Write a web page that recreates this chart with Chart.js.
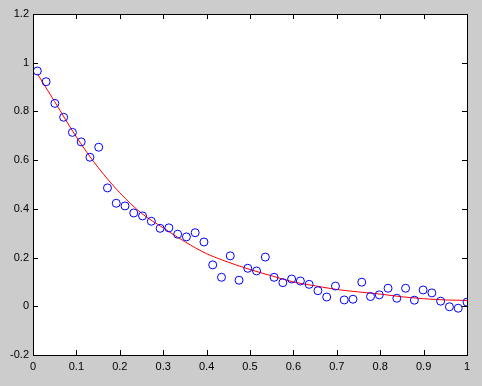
<!DOCTYPE html>
<html>
<head>
<meta charset="utf-8">
<script src="https://cdn.jsdelivr.net/npm/chart.js@4/dist/chart.umd.min.js"></script>
<style>
html,body{margin:0;padding:0;background:#cccccc;}
#wrap{width:482px;height:386px;}
</style>
</head>
<body>
<div id="wrap"><canvas id="c" width="482" height="386"></canvas></div>
<script>
// Sample x positions (50 samples from 0.01 to 1)
const sampleX = [0.0100,0.0302,0.0504,0.0706,0.0908,0.1110,0.1312,0.1514,0.1716,0.1918,
  0.2120,0.2322,0.2524,0.2727,0.2929,0.3131,0.3333,0.3535,0.3737,0.3939,
  0.4141,0.4343,0.4545,0.4747,0.4949,0.5151,0.5353,0.5555,0.5757,0.5959,
  0.6161,0.6363,0.6565,0.6767,0.6969,0.7171,0.7373,0.7575,0.7777,0.7979,
  0.8181,0.8383,0.8585,0.8787,0.8989,0.9191,0.9393,0.9595,0.9797,1.0];
// Observed values (blue circles)
const sampleY = [0.966,0.922,0.833,0.776,0.714,0.675,0.612,0.653,0.486,0.423,
  0.412,0.383,0.371,0.349,0.320,0.322,0.296,0.285,0.302,0.264,
  0.170,0.119,0.207,0.107,0.156,0.145,0.202,0.119,0.097,0.112,
  0.104,0.090,0.064,0.038,0.083,0.026,0.029,0.099,0.040,0.047,
  0.074,0.033,0.074,0.025,0.067,0.055,0.021,-0.002,-0.008,0.017];
// Fitted curve (red line)
const fitX = [0.01,0.05,0.1,0.15,0.2,0.25,0.3,0.35,0.4,0.45,0.5,0.55,0.6,0.65,0.7,0.75,0.8,0.85,0.9,0.95,1.0];
const fitY = [0.955,0.84,0.695,0.57,0.466,0.382,0.322,0.265,0.216,0.181,0.151,0.125,0.10,0.084,0.069,0.059,0.05,0.039,0.031,0.026,0.024];
// Tick labels
const xTickLabels = ['0','0.1','0.2','0.3','0.4','0.5','0.6','0.7','0.8','0.9','1'];
const yTickLabels = ['-0.2','0','0.2','0.4','0.6','0.8','1','1.2'];

const W = 482, H = 386;
const plotLeft = 33, plotRight = 467, plotTop = 14, plotBottom = 355;

const framePlugin = {
  id: 'frame',
  beforeDraw(chart) {
    const ctx = chart.ctx, a = chart.chartArea;
    ctx.save();
    ctx.fillStyle = '#cccccc';
    ctx.fillRect(0, 0, chart.width, chart.height);
    ctx.fillStyle = '#ffffff';
    ctx.fillRect(a.left, a.top, a.right - a.left, a.bottom - a.top);
    ctx.restore();
  },
  afterDraw(chart) {
    const ctx = chart.ctx, a = chart.chartArea;
    const xs = chart.scales.x, ys = chart.scales.y;
    ctx.save();
    ctx.strokeStyle = '#000000';
    ctx.lineWidth = 1;
    ctx.beginPath();
    const tl = 5;
    xs.ticks.forEach(t => {
      const px = Math.round(xs.getPixelForValue(t.value)) + 0.5;
      ctx.moveTo(px, a.bottom); ctx.lineTo(px, a.bottom - tl);
      ctx.moveTo(px, a.top); ctx.lineTo(px, a.top + tl);
    });
    ys.ticks.forEach(t => {
      const py = Math.round(ys.getPixelForValue(t.value)) + 0.5;
      ctx.moveTo(a.left, py); ctx.lineTo(a.left + tl, py);
      ctx.moveTo(a.right, py); ctx.lineTo(a.right - tl, py);
    });
    ctx.stroke();
    ctx.strokeRect(Math.round(a.left) + 0.5, Math.round(a.top) + 0.5,
      Math.round(a.right - a.left), Math.round(a.bottom - a.top));
    ctx.restore();
  }
};

const fitData = fitX.map((x, i) => ({x: x, y: fitY[i]}));
const sampleData = sampleX.map((x, i) => ({x: x, y: sampleY[i]}));

new Chart(document.getElementById('c'), {
  type: 'scatter',
  data: {
    datasets: [
      {
        type: 'line',
        data: fitData,
        borderColor: '#ff0000',
        borderWidth: 1,
        pointRadius: 0,
        fill: false,
        cubicInterpolationMode: 'monotone',
        order: 2
      },
      {
        data: sampleData,
        borderColor: '#0000ff',
        backgroundColor: 'rgba(0,0,0,0)',
        borderWidth: 1,
        pointRadius: 4,
        pointStyle: 'circle',
        showLine: false,
        order: 1
      }
    ]
  },
  options: {
    responsive: false,
    animation: false,
    devicePixelRatio: 1,
    layout: { padding: { left: 0, top: plotTop, right: W - plotRight, bottom: 0 } },
    plugins: { legend: { display: false }, tooltip: { enabled: false } },
    scales: {
      x: {
        type: 'linear',
        min: 0, max: 1,
        afterFit(s) { s.height = H - plotBottom; },
        afterBuildTicks(s) { s.ticks = xTickLabels.map((l) => ({value: parseFloat(l)})); },
        grid: { display: false, drawTicks: false },
        border: { display: false },
        ticks: {
          padding: 5,
          color: '#000000',
          font: { family: 'Liberation Sans, Arial, sans-serif', size: 11 },
          maxRotation: 0,
          autoSkip: false,
          callback(v, i) { return xTickLabels[i]; }
        }
      },
      y: {
        type: 'linear',
        min: -0.2, max: 1.2,
        afterFit(s) { s.width = plotLeft; },
        afterBuildTicks(s) { s.ticks = yTickLabels.map((l) => ({value: parseFloat(l)})); },
        grid: { display: false, drawTicks: false },
        border: { display: false },
        ticks: {
          padding: 4,
          color: '#000000',
          font: { family: 'Liberation Sans, Arial, sans-serif', size: 11 },
          autoSkip: false,
          callback(v, i) { return yTickLabels[i]; }
        }
      }
    }
  },
  plugins: [framePlugin]
});
</script>
</body>
</html>
